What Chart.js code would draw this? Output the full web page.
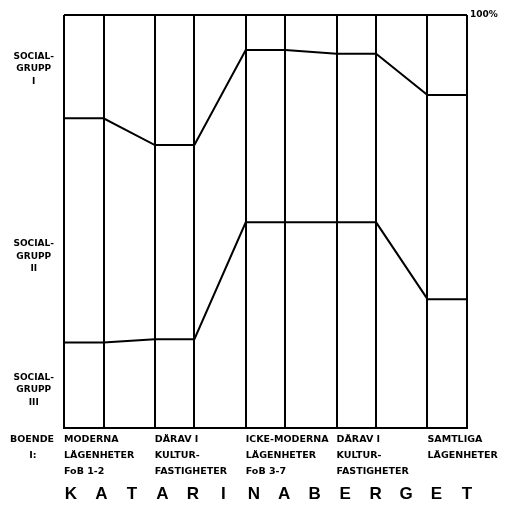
<!DOCTYPE html>
<html lang="sv">
<head>
<meta charset="UTF-8">
<title>Katarinaberget</title>
<script src="https://cdn.jsdelivr.net/npm/chart.js"></script>
<style>
  body { margin: 0; background: #fff; }
  #wrap { width: 505px; height: 507px; }
</style>
</head>
<body>
<div id="wrap"><canvas id="chart"></canvas></div>
<script>
// categories (housing type), left to right
const categories = [
   ['MODERNA', 'LÄGENHETER', 'FoB 1-2'],
   ['DÄRAV I', 'KULTUR-', 'FASTIGHETER'],
   ['ICKE-MODERNA', 'LÄGENHETER', 'FoB 3-7'],
   ['DÄRAV I', 'KULTUR-', 'FASTIGHETER'],
   ['SAMTLIGA', 'LÄGENHETER']
];
// cumulative % (from bottom): top of social group II, top of social group III
const topOfGroupII = [75.0, 68.5, 91.5, 90.6, 80.6];
const topOfGroupIII = [20.7, 21.5, 49.8, 49.8, 31.2];

const groupLabels = [['SOCIAL-', 'GRUPP', 'I'], ['SOCIAL-', 'GRUPP', 'II'], ['SOCIAL-', 'GRUPP', 'III']];
const groupLabelAt = [86.9, 41.6, 9.2];
const yTicks = [0, 100];
const title = 'KATARINABERGET';

// each category is a column of width 1, columns separated by a gap
const GAP = 1.3;
const STEP = 1 + GAP;
const edges = [];
categories.forEach((c, i) => { edges.push(i * STEP, i * STEP + 1); });

const columnPoints = (values) => {
   const pts = [];
   values.forEach((v, i) => {
      pts.push({ x: i * STEP, y: v });
      pts.push({ x: i * STEP + 1, y: v });
   });
   return pts;
};

const FONT = '"DejaVu Sans", sans-serif';

// draws "BOENDE I:" and the spaced-out title under the chart
const extraText = {
   id: 'extraText',
   afterDraw(chart) {
      const ctx = chart.ctx;
      const area = chart.chartArea;
      ctx.save();
      ctx.fillStyle = '#000';
      ctx.textAlign = 'center';
      ctx.textBaseline = 'middle';
      ctx.font = 'bold 9.5px ' + FONT;
      ctx.fillText('BOENDE', 32, 440);
      ctx.fillText('I:', 33, 456);

      ctx.font = 'bold 17px "Liberation Sans", sans-serif';
      const letters = title.split('');
      const first = area.left + 7;
      const span = area.right - first;
      letters.forEach((ch, i) => {
         ctx.fillText(ch, first + i * span / (letters.length - 1), 494);
      });
      ctx.restore();
   }
};

// stop label heights from pushing the plot area in
const noPad = (s) => { s.paddingTop = 0; s.paddingBottom = 0; };

new Chart(document.getElementById('chart'), {
   type: 'line',
   data: {
      datasets: [
         { data: columnPoints(topOfGroupII), borderColor: '#000', borderWidth: 2, pointRadius: 0, tension: 0, fill: false },
         { data: columnPoints(topOfGroupIII), borderColor: '#000', borderWidth: 2, pointRadius: 0, tension: 0, fill: false }
      ]
   },
   options: {
      responsive: true,
      maintainAspectRatio: false,
      animation: false,
      devicePixelRatio: 1,
      layout: { padding: { top: 15, left: 0, right: 0, bottom: 0 } },
      plugins: { legend: { display: false }, tooltip: { enabled: false } },
      scales: {
         x: {
            type: 'linear',
            position: 'bottom',
            min: 0,
            max: edges[edges.length - 1],
            afterBuildTicks: (s) => { s.ticks = edges.map(v => ({ value: v })); },
            afterFit: (s) => { s.height = 79; },
            ticks: {
               autoSkip: false,
               maxRotation: 0,
               minRotation: 0,
               align: 'start',
               padding: 4,
               color: '#000',
               font: { family: FONT, size: 9.5, weight: 'bold', lineHeight: 1.65 },
               callback: (v, i) => (i % 2 === 0 ? categories[i / 2] : '')
            },
            grid: { color: '#000', lineWidth: 2, drawTicks: false },
            border: { display: true, color: '#000', width: 2 }
         },
         y: {
            position: 'left',
            min: 0,
            max: 100,
            afterBuildTicks: (s) => { s.ticks = groupLabelAt.map(v => ({ value: v })); },
            afterFit: (s) => { s.width = 64; noPad(s); },
            ticks: {
               crossAlign: 'center',
               padding: 10,
               color: '#000',
               font: { family: FONT, size: 9, weight: 'bold', lineHeight: 1.4 },
               callback: (v, i) => groupLabels[i]
            },
            grid: { display: false, drawTicks: false },
            border: { display: false }
         },
         y2: {
            position: 'right',
            min: 0,
            max: 100,
            afterBuildTicks: (s) => { s.ticks = yTicks.map(v => ({ value: v })); },
            afterFit: (s) => { s.width = 38; noPad(s); },
            ticks: {
               padding: 3,
               color: '#000',
               font: { family: FONT, size: 9, weight: 'bold' },
               callback: (v) => (v === 100 ? '100%' : '')
            },
            grid: { color: '#000', lineWidth: 2, drawTicks: false },
            border: { display: false }
         }
      }
   },
   plugins: [extraText]
});
</script>
</body>
</html>
